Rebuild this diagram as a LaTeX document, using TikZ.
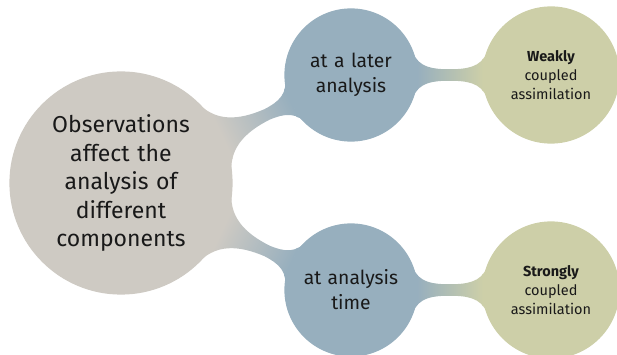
\documentclass[tikz,border=0pt]{standalone}
\usepackage{fontspec}
\setmainfont{Fira Sans}
\usepackage{tikz}
\usetikzlibrary{mindmap,positioning}
\definecolor{rootgray}{RGB}{206,202,195}
\definecolor{timeblue}{RGB}{151,175,190}
\definecolor{coupgreen}{RGB}{205,207,168}
\def\MMRoot{222pt}
\def\MMMid{132pt}
\def\MMLeaf{136pt}
\tikzset{
  rootconcept/.style={concept,concept color=rootgray,minimum size=\MMRoot,inner sep=0pt,
    text width=170pt,align=center,font=\fontsize{23}{28.5}\selectfont},
  midconcept/.style={concept,concept color=timeblue,minimum size=\MMMid,inner sep=0pt,
    text width=110pt,align=center,font=\fontsize{19.3}{25}\selectfont},
  leafconcept/.style={concept,concept color=coupgreen,minimum size=\MMLeaf,inner sep=0pt,
    text width=110pt,align=center,font=\fontsize{14.5}{19}\selectfont},
}
\begin{document}
\begin{tikzpicture}[mindmap,text=black!90]
  \useasboundingbox (-121pt,-172pt) rectangle (496pt,183pt);
  \node[rootconcept] (obs) at (0,0) {Observations\\affect the\\analysis of\\different\\components};
  \node[midconcept] (later) at (230pt,108pt) {at a later\\analysis};
  \node[midconcept] (anatime) at (230pt,-107pt) {at analysis\\time};
  \node[leafconcept,right=66pt of later] (weak) {\textbf{Weakly}\\coupled\\assimilation};
  \node[leafconcept,right=66pt of anatime] (strong) {\textbf{Strongly}\\coupled\\assimilation};
  % connection bars
  \path (obs) to[circle connection bar switch color=from (rootgray) to (timeblue)] (later);
  \path (obs) to[circle connection bar switch color=from (rootgray) to (timeblue)] (anatime);
  \path (later) to[circle connection bar switch color=from (timeblue) to (coupgreen)] (weak);
  \path (anatime) to[circle connection bar switch color=from (timeblue) to (coupgreen)] (strong);
\end{tikzpicture}
\end{document}
